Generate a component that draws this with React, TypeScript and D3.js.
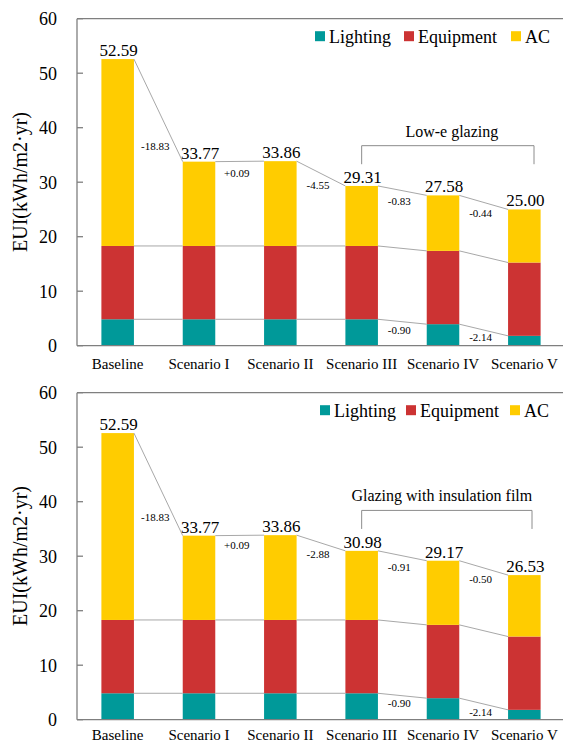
import React from "react";
import * as d3 from "d3";

const scenarios = ["Baseline", "Scenario I", "Scenario II", "Scenario III", "Scenario IV", "Scenario V"];
const seriesNames = ["Lighting", "Equipment", "AC"];
const seriesColors = ["#009999", "#CC3333", "#FFCC00"];
const lighting = [4.85, 4.85, 4.85, 4.85, 3.95, 1.81];
const equipment = [13.45, 13.45, 13.45, 13.45, 13.45, 13.45];
const acLowE = [34.29, 15.47, 15.56, 11.01, 10.18, 9.74];
const acFilm = [34.29, 15.47, 15.56, 12.68, 11.77, 11.27];
const yTicks = [0, 10, 20, 30, 40, 50, 60];

const lowEDeltaLabels = ["-18.83", "+0.09", "-4.55", "-0.83", "-0.44"];
const lowEDeltaY = [36.6, 31.6, 29.5, 26.6, 24.3];
const filmDeltaLabels = ["-18.83", "+0.09", "-2.88", "-0.91", "-0.50"];
const filmDeltaY = [37.1, 32.1, 30.4, 28.0, 25.8];
const lightDeltaLabels = ["", "", "", "-0.90", "-2.14"];
const lowELightDeltaY = [0, 0, 0, 2.9, 1.6];
const filmLightDeltaY = [0, 0, 0, 3.0, 1.3];

const FONT =
  "'Liberation Serif', 'Times New Roman', Times, 'Nimbus Roman', 'Noto Serif', 'DejaVu Serif', FreeSerif, Georgia, serif";
const W = 563;
const H = 745;

type ChartProps = {
  offsetY: number;
  ac: number[];
  deltaLabels: string[];
  deltaY: number[];
  lightDeltaY: number[];
  bracketText: string;
  bracketY: [number, number, number];
  bracketX1: number;
  textDx: number;
  legendX: number[];
  labelY: number;
};

function Chart(p: ChartProps) {
  const x = d3
    .scaleBand<string>()
    .domain(scenarios)
    .range([77, 565])
    .paddingInner(0.6)
    .paddingOuter(0.3);
  const y = d3.scaleLinear().domain([0, 60]).range([345.7, 18.7]);
  const bw = x.bandwidth();

  const rows = scenarios.map((s, i) => ({
    name: s,
    Lighting: lighting[i],
    Equipment: equipment[i],
    AC: p.ac[i],
  }));
  const stack = d3.stack<any>().keys(seriesNames)(rows);
  const totals = rows.map((r) => r.Lighting + r.Equipment + r.AC);
  const eqTop = rows.map((r) => r.Lighting + r.Equipment);
  const lTop = rows.map((r) => r.Lighting);

  const connector = (vals: number[], key: string) =>
    vals.slice(0, -1).map((v, i) => (
      <line
        key={key + i}
        x1={(x(scenarios[i]) as number) + bw}
        y1={y(v)}
        x2={x(scenarios[i + 1]) as number}
        y2={y(vals[i + 1])}
        stroke="#A8A8A8"
        strokeWidth={1}
      />
    ));

  const gapMid = (i: number) => ((x(scenarios[i]) as number) + bw + (x(scenarios[i + 1]) as number)) / 2 - 3;
  const cx = (i: number) => (x(scenarios[i]) as number) + bw / 2;
  const bx0 = cx(3);
  const bx1 = p.bracketX1;
  const ts = { fontFamily: FONT };

  return (
    <g transform={`translate(0,${p.offsetY})`}>
      {stack.map((layer, li) =>
        layer.map((d, i) => (
          <rect
            key={seriesNames[li] + i}
            x={x(scenarios[i])}
            y={y(d[1])}
            width={bw}
            height={y(d[0]) - y(d[1])}
            fill={seriesColors[li]}
          />
        ))
      )}
      {connector(totals, "t")}
      {connector(eqTop, "e")}
      {connector(lTop, "l")}
      <line x1={77} x2={W} y1={y(60)} y2={y(60)} stroke="#7F7F7F" strokeWidth={1.3} />
      <line x1={77} x2={W} y1={y(0)} y2={y(0)} stroke="#7F7F7F" strokeWidth={1.3} />
      <line x1={77} x2={77} y1={y(0)} y2={y(60)} stroke="#7F7F7F" strokeWidth={1.3} />
      {yTicks.map((t) => (
        <g key={t}>
          <line x1={77} x2={83} y1={y(t)} y2={y(t)} stroke="#7F7F7F" strokeWidth={1.3} />
          <text x={57} y={y(t)} dy="0.35em" textAnchor="end" fontSize={18} fill="#000" style={ts}>
            {t}
          </text>
        </g>
      ))}
      <text transform={`translate(27,182) rotate(-90)`} textAnchor="middle" fontSize={20} fill="#000" style={ts}>
        EUI(kWh/m2·yr)
      </text>
      {scenarios.map((s, i) => (
        <text key={s} x={cx(i)} y={p.labelY} textAnchor="middle" fontSize={15} fill="#000" style={ts}>
          {s}
        </text>
      ))}
      {totals.map((t, i) => (
        <text key={"v" + i} x={cx(i) + 1} y={y(t) - 3} textAnchor="middle" fontSize={17} fill="#000" style={ts}>
          {t.toFixed(2)}
        </text>
      ))}
      {p.deltaLabels.map((l, i) => (
        <text key={"d" + i} x={gapMid(i)} y={y(p.deltaY[i])} dy="0.35em" textAnchor="middle" fontSize={11} fill="#000" style={ts}>
          {l}
        </text>
      ))}
      {lightDeltaLabels.map((l, i) =>
        l ? (
          <text key={"ld" + i} x={gapMid(i)} y={y(p.lightDeltaY[i])} dy="0.35em" textAnchor="middle" fontSize={11} fill="#000" style={ts}>
            {l}
          </text>
        ) : null
      )}
      <path
        d={`M${bx0},${y(p.bracketY[2])}V${y(p.bracketY[1])}H${bx1}V${y(p.bracketY[2])}`}
        fill="none"
        stroke="#8C8C8C"
        strokeWidth={1}
      />
      <text x={(bx0 + bx1) / 2 + p.textDx} y={y(p.bracketY[0])} textAnchor="middle" fontSize={16} fill="#000" style={ts}>
        {p.bracketText}
      </text>
      {seriesNames.map((n, i) => (
        <g key={n}>
          <rect x={p.legendX[i]} y={y(60) + 12.5} width={10} height={10} fill={seriesColors[i]} />
          <text x={p.legendX[i] + 14} y={y(60) + 17.5} dy="0.35em" fontSize={18} fill="#000" style={ts}>
            {n}
          </text>
        </g>
      ))}
    </g>
  );
}

export default function App() {
  return (
    <svg
      width={W}
      height={H}
      style={{ position: "absolute", left: 0, top: 0, background: "#fff", fontFamily: FONT }}
    >
      <rect width={W} height={H} fill="#fff" />
      <Chart
        offsetY={0}
        ac={acLowE}
        deltaLabels={lowEDeltaLabels}
        deltaY={lowEDeltaY}
        lightDeltaY={lowELightDeltaY}
        bracketText="Low-e glazing"
        bracketY={[38.3, 36.7, 33.3]}
        bracketX1={534}
        textDx={4}
        legendX={[315, 404, 511]}
        labelY={369}
      />
      <Chart
        offsetY={374}
        ac={acFilm}
        deltaLabels={filmDeltaLabels}
        deltaY={filmDeltaY}
        lightDeltaY={filmLightDeltaY}
        bracketText="Glazing with insulation film"
        bracketY={[40.2, 38.4, 35.0]}
        bracketX1={532}
        textDx={-5}
        legendX={[320, 406, 510]}
        labelY={366}
      />
    </svg>
  );
}
